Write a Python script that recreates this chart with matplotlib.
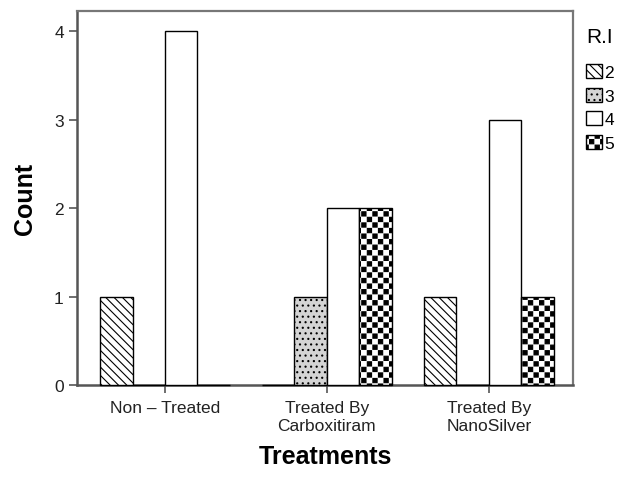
import matplotlib
matplotlib.use("Agg")
import matplotlib.pyplot as plt
import matplotlib.hatch as mhatch
from matplotlib.path import Path
import numpy as np


# Data
treatments = ["Non \u2013 Treated", "Treated By\nCarboxitiram", "Treated By\nNanoSilver"]
ri_levels = ["2", "3", "4", "5"]
count_ri2 = [1, 0, 1]
count_ri3 = [0, 1, 0]
count_ri4 = [4, 2, 3]
count_ri5 = [0, 2, 1]


# Checkerboard hatch (replaces the '*' star hatch)
class CheckerHatch(mhatch.HatchPatternBase):
    def __init__(self, hatch, density):
        self.n = int(hatch.count('*') * density * 1.5)
        self.num_vertices = self.n * self.n * 2 * 5

    def set_vertices_and_codes(self, vertices, codes):
        n = self.n
        s = 1.0 / (2 * n)
        d = 0.12 * s
        sq = np.array([[d, d], [s - d, d], [s - d, s - d], [d, s - d], [d, d]])
        parts = []
        for i in range(n):
            for j in range(n):
                parts.append(sq + [2 * i * s, 2 * j * s])
                parts.append(sq + [(2 * i + 1) * s, (2 * j + 1) * s])
        vertices[:] = np.concatenate(parts)
        c = [Path.MOVETO, Path.LINETO, Path.LINETO, Path.LINETO, Path.CLOSEPOLY]
        codes[:] = np.tile(c, 2 * n * n)


mhatch._hatch_types = [t for t in mhatch._hatch_types if t is not mhatch.Stars] + [CheckerHatch]

plt.rcParams['font.family'] = ['Liberation Sans', 'DejaVu Sans']
plt.rcParams['hatch.linewidth'] = 0.8

fig = plt.figure(figsize=(6.19, 4.81), dpi=100)
ax = fig.add_axes([77 / 619, 1 - 386 / 481, (573 - 77) / 619, (386 - 12) / 481])

x = np.arange(len(treatments))
w = 0.2
series = [count_ri2, count_ri3, count_ri4, count_ri5]
styles = [
    dict(facecolor='white', hatch='\\\\\\\\'),
    dict(facecolor='#d4d4d4', hatch='...'),
    dict(facecolor='white', hatch=None),
    dict(facecolor='white', hatch='*'),
]
for k, (vals, st) in enumerate(zip(series, styles)):
    ax.bar(x + (k - 1.5) * w, vals, width=w, edgecolor='black', linewidth=1.0,
           label=ri_levels[k], zorder=3, clip_on=False, **st)

ax.set_xlim(-0.543, 2.52)
ax.set_ylim(0, 4.226)
ax.set_yticks([0, 1, 2, 3, 4])
ax.set_xticks(x)
ax.set_xticklabels(treatments, fontsize=12.5, color='#222222')
ax.tick_params(axis='y', labelsize=12.5, labelcolor='#222222', length=6, width=1.2, color='#555555')
ax.tick_params(axis='x', length=6, width=1.2, color='#555555', pad=5)

for side in ['left', 'bottom']:
    ax.spines[side].set_color('#555555')
    ax.spines[side].set_linewidth(1.8)
for side in ['top', 'right']:
    ax.spines[side].set_color('#777777')
    ax.spines[side].set_linewidth(1.6)

ax.set_xlabel("Treatments", fontsize=18, fontweight='bold', labelpad=8)
ax.set_ylabel("Count", fontsize=18, fontweight='bold', labelpad=12)

leg = ax.legend(title="R.I", loc='upper left', bbox_to_anchor=(586 / 619, 1 - 28 / 481),
                bbox_transform=fig.transFigure, frameon=False, fontsize=12.5,
                title_fontsize=15, handlelength=0.9, handleheight=0.9,
                handletextpad=0.15, labelspacing=0.42, borderpad=0, borderaxespad=0)
leg._legend_box.align = 'left'
leg._legend_box.sep = 13

fig.savefig('out.png', dpi=100)
